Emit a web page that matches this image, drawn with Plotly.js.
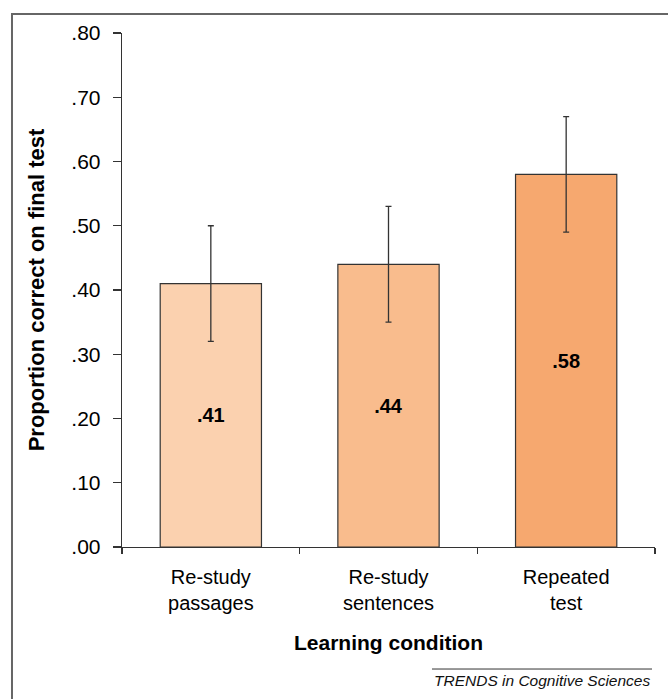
<!DOCTYPE html>
<html>
<head>
<meta charset="utf-8">
<script src="https://cdn.plot.ly/plotly-3.0.1.min.js"></script>
<style>
html, body { margin: 0; padding: 0; background: #fff; }
#chart { width: 668px; height: 699px; }
</style>
</head>
<body>
<div id="chart"></div>
<script>
const categories = ['Re-study<br>passages', 'Re-study<br>sentences', 'Repeated<br>test'];
const values = [0.41, 0.44, 0.58];
const errors = [0.09, 0.09, 0.09];
const barColors = ['#FBD1AF', '#F9BC8D', '#F6A86F'];
const yTickVals = [0, 0.1, 0.2, 0.3, 0.4, 0.5, 0.6, 0.7, 0.8];
const yTickText = ['.00', '.10', '.20', '.30', '.40', '.50', '.60', '.70', '.80'];
const yTitle = 'Proportion correct on final test';
const xTitle = 'Learning condition';
const footer = 'TRENDS in Cognitive Sciences';

const FONT = 'Liberation Sans, Arial, Helvetica, sans-serif';
const barText = values.map(v => v.toFixed(2).replace(/^0/, ''));

const trace = {
  type: 'bar',
  x: categories,
  y: values,
  marker: { color: barColors, line: { color: '#333333', width: 1.2 } },
  error_y: { type: 'data', array: errors, visible: true, color: '#333333', thickness: 1.3, width: 3 },
  text: barText,
  textposition: 'inside',
  insidetextanchor: 'middle',
  textfont: { family: FONT, size: 20, color: '#000000', weight: 'bold' },
  hoverinfo: 'none'
};

const layout = {
  width: 668,
  height: 699,
  margin: { l: 122, r: 13, t: 33, b: 152 },
  paper_bgcolor: '#ffffff',
  plot_bgcolor: '#ffffff',
  showlegend: false,
  bargap: 0.43,
  font: { family: FONT, color: '#000000' },
  xaxis: {
    type: 'category',
    showline: true,
    linecolor: '#333333',
    linewidth: 1.3,
    ticks: 'outside',
    tickson: 'boundaries',
    ticklen: 6,
    tickcolor: '#333333',
    tickwidth: 1.3,
    tickfont: { family: FONT, size: 20, color: '#000000' },
    ticklabelstandoff: 12,
    showgrid: false,
    zeroline: false,
    title: { text: xTitle, font: { family: FONT, size: 21, color: '#000000', weight: 'bold' }, standoff: 22 },
    automargin: false,
    fixedrange: true
  },
  yaxis: {
    range: [0, 0.8],
    tickvals: yTickVals,
    ticktext: yTickText,
    showline: true,
    linecolor: '#333333',
    linewidth: 1.3,
    ticks: 'outside',
    ticklen: 8,
    tickcolor: '#333333',
    tickwidth: 1.3,
    tickfont: { family: FONT, size: 21, color: '#000000' },
    ticklabelstandoff: 8,
    showgrid: false,
    zeroline: false,
    title: { text: yTitle, font: { family: FONT, size: 22, color: '#000000', weight: 'bold' }, standoff: 20 },
    automargin: false,
    fixedrange: true
  },
  shapes: [
    { type: 'rect', xref: 'paper', yref: 'paper', x0: -0.2064, x1: 1.06, y0: -0.40, y1: 1.037,
      line: { color: '#666666', width: 2 }, fillcolor: 'rgba(0,0,0,0)', layer: 'below' },
    { type: 'line', xref: 'paper', yref: 'paper', x0: 0.5816, x1: 0.9944, y0: -0.2374, y1: -0.2374,
      line: { color: '#333333', width: 1 } }
  ],
  annotations: [
    { text: footer, xref: 'paper', yref: 'paper', x: 0.9944, y: -0.2607, xanchor: 'right', yanchor: 'middle',
      showarrow: false, font: { family: FONT, size: 15.5, color: '#111111', style: 'italic' } }
  ]
};

Plotly.newPlot('chart', [trace], layout, { displayModeBar: false, staticPlot: true });
</script>
</body>
</html>
